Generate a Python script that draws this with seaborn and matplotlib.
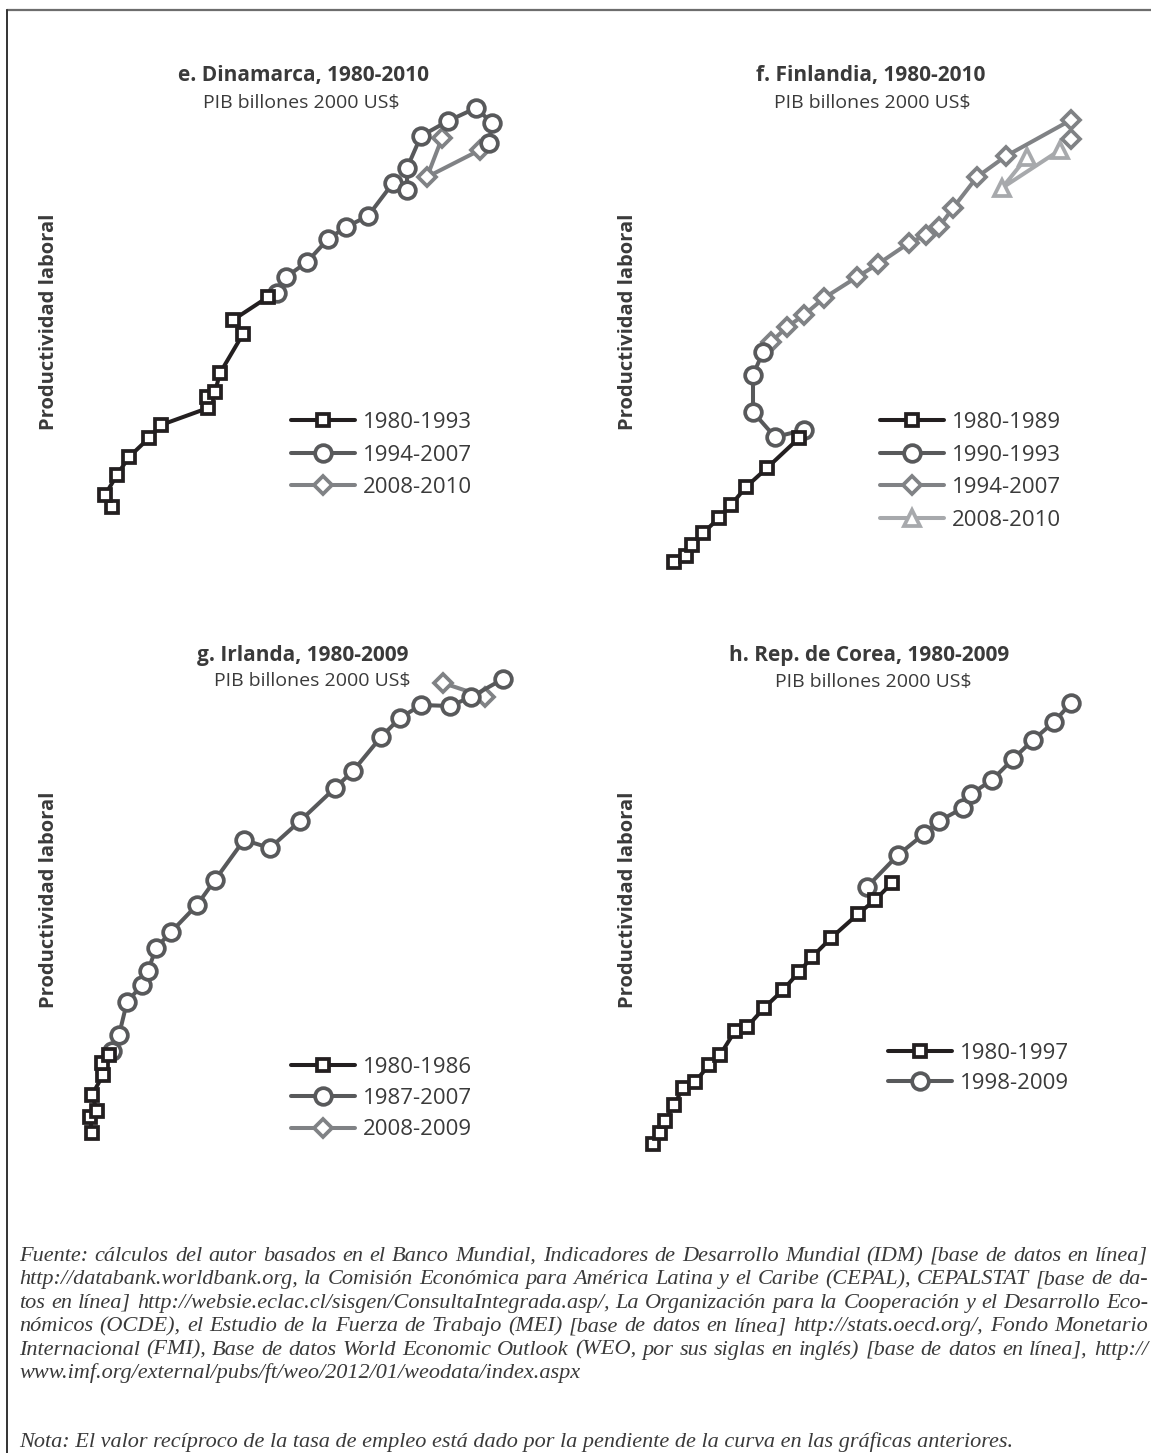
import matplotlib
matplotlib.use("Agg")
import matplotlib.pyplot as plt
import seaborn as sns
from matplotlib.lines import Line2D

W, H = 1151, 1453

# ---- data (index units; x = PIB, y = productividad) ----
# e. Dinamarca
dk_8093_x = [52, 45, 57, 69, 89, 101, 148, 147, 155, 160, 183, 173, 208]
dk_8093_y = [73, 85, 105, 123, 142, 155, 172, 183, 188, 207, 246, 260, 283]
dk_9407_x = [217, 226, 247, 268, 286, 308, 333, 347, 347, 361, 388, 416, 432, 429]
dk_9407_y = [287, 303, 318, 341, 353, 364, 397, 390, 412, 444, 459, 472, 457, 437]
dk_0810_x = [382, 367, 420]
dk_0810_y = [442, 403, 430]

# f. Finlandia
fi_8089_x = [44, 56, 62, 73, 89, 101, 116, 137, 169]
fi_8089_y = [18, 24, 35, 47, 62, 75, 93, 112, 142]
fi_9093_x = [174, 145, 123, 123, 133]
fi_9093_y = [150, 143, 168, 205, 228]
fi_9407_x = [141, 157, 174, 194, 227, 248, 279, 296, 309, 323, 347, 376, 441, 441]
fi_9407_y = [238, 253, 265, 282, 303, 316, 337, 345, 353, 372, 403, 424, 460, 441]
fi_0810_x = [397, 372, 430]
fi_0810_y = [423, 392, 430]

# g. Irlanda
ie_8086_x = [32, 30, 37, 32, 43, 42, 49]
ie_8086_y = [27, 43, 49, 65, 85, 97, 105]
ie_8707_x = [52, 59, 67, 82, 88, 96, 111, 137, 155, 184, 210, 240, 275, 293,
             321, 340, 361, 390, 411, 443]
ie_8707_y = [109, 125, 158, 175, 189, 212, 228, 255, 280, 320, 312, 339, 372, 389,
             423, 442, 455, 454, 463, 481]
ie_0809_x = [383, 425]
ie_0809_y = [477, 463]

# h. Rep. de Corea
kr_8097_x = [23, 30, 35, 44, 53, 65, 79, 90, 105, 117, 134, 153, 169, 182, 201,
             228, 245, 262]
kr_8097_y = [16, 27, 39, 55, 72, 78, 95, 105, 129, 133, 152, 170, 188, 203, 222,
             246, 260, 277]
kr_9809_x = [237, 268, 294, 309, 333, 341, 362, 383, 403, 424, 441]
kr_9809_y = [273, 305, 326, 339, 352, 366, 380, 401, 420, 438, 457]

TITLES = ["e. Dinamarca, 1980-2010", "f. Finlandia, 1980-2010",
          "g. Irlanda, 1980-2009", "h. Rep. de Corea, 1980-2009"]
SUBTITLE = "PIB billones 2000 US$"
YLABEL = "Productividad laboral"

SOURCE_LINES = [
    "Fuente: cálculos del autor basados en el Banco Mundial, Indicadores de Desarrollo Mundial (IDM) [base de datos en línea]",
    "http://databank.worldbank.org, la Comisión Económica para América Latina y el Caribe (CEPAL), CEPALSTAT [base de da-",
    "tos en línea] http://websie.eclac.cl/sisgen/ConsultaIntegrada.asp/, La Organización para la Cooperación y el Desarrollo Eco-",
    "nómicos (OCDE), el Estudio de la Fuerza de Trabajo (MEI) [base de datos en línea] http://stats.oecd.org/, Fondo Monetario",
    "Internacional (FMI), Base de datos World Economic Outlook (WEO, por sus siglas en inglés) [base de datos en línea], http://",
    "www.imf.org/external/pubs/ft/weo/2012/01/weodata/index.aspx",
]
NOTE = "Nota: El valor recíproco de la tasa de empleo está dado por la pendiente de la curva en las gráficas anteriores."

# ---- styles ----
C_BLACK = "#231f20"
C_DARK = "#58595b"
C_MID = "#808285"
C_LIGHT = "#a7a9ac"
TXT = "#3a3a3a"

SQ = ("s", 9.0)
CI = ("o", 12.0)
DI = ("D", 9.0)
TR = ("^", 11.5)

panels = [
    dict(box=(60, 580), title_xy=(303, 75), sub_xy=(301, 103), ylab_xy=(49, 322),
         leg_xy=(291, 412), spacing=0.52,
         series=[("1980-1993", dk_8093_x, dk_8093_y, SQ, C_BLACK),
                 ("1994-2007", dk_9407_x, dk_9407_y, CI, C_DARK),
                 ("2008-2010", dk_0810_x, dk_0810_y, DI, C_MID)]),
    dict(box=(630, 580), title_xy=(871, 75), sub_xy=(872, 103), ylab_xy=(628, 322),
         leg_xy=(880, 412), spacing=0.52,
         series=[("1980-1989", fi_8089_x, fi_8089_y, SQ, C_BLACK),
                 ("1990-1993", fi_9093_x, fi_9093_y, CI, C_DARK),
                 ("1994-2007", fi_9407_x, fi_9407_y, DI, C_MID),
                 ("2008-2010", fi_0810_x, fi_0810_y, TR, C_LIGHT)]),
    dict(box=(60, 1160), title_xy=(303, 655), sub_xy=(312, 681), ylab_xy=(49, 900),
         leg_xy=(291, 1057), spacing=0.46,
         series=[("1980-1986", ie_8086_x, ie_8086_y, SQ, C_BLACK),
                 ("1987-2007", ie_8707_x, ie_8707_y, CI, C_DARK),
                 ("2008-2009", ie_0809_x, ie_0809_y, DI, C_MID)]),
    dict(box=(630, 1160), title_xy=(869, 656), sub_xy=(873, 682), ylab_xy=(628, 900),
         leg_xy=(888, 1043), spacing=0.4,
         series=[("1980-1997", kr_8097_x, kr_8097_y, SQ, C_BLACK),
                 ("1998-2009", kr_9809_x, kr_9809_y, CI, C_DARK)]),
]


def fx(px):
    return px / W


def fy(py):
    return 1 - py / H


sns.set_theme(style="white")
plt.rcParams["font.family"] = ["Open Sans", "DejaVu Sans"]

fig = plt.figure(figsize=(W / 100, H / 100), dpi=100)

BOX_W, BOX_H = 480, 500
for i, p in enumerate(panels):
    x0, y0 = p["box"]
    ax = fig.add_axes([fx(x0), fy(y0), BOX_W / W, BOX_H / H])
    ax.set_xlim(0, BOX_W)
    ax.set_ylim(0, BOX_H)
    ax.axis("off")

    # later periods underneath, earlier ones on top
    for label, xs, ys, (mk, ms), col in reversed(p["series"]):
        sns.lineplot(x=xs, y=ys, ax=ax, color=col, linewidth=2.9,
                     marker=mk, markersize=ms, markeredgewidth=2.7,
                     markeredgecolor=col, markerfacecolor="white",
                     estimator=None, sort=False, label=label, clip_on=False)

    handles, labels = ax.get_legend_handles_labels()
    order = [s[0] for s in p["series"]]
    hmap = dict(zip(labels, handles))
    ax.legend([hmap[l] for l in order], order, loc="upper left",
              bbox_to_anchor=(fx(p["leg_xy"][0]), fy(p["leg_xy"][1])),
              bbox_transform=fig.transFigure, frameon=False, fontsize=16,
              handlelength=2.9, handletextpad=0.35, labelspacing=p["spacing"],
              borderpad=0, borderaxespad=0, labelcolor=TXT)

    fig.text(fx(p["title_xy"][0]), fy(p["title_xy"][1]), TITLES[i], ha="center",
             va="center", fontsize=15, fontweight="bold", color=TXT)
    fig.text(fx(p["sub_xy"][0]), fy(p["sub_xy"][1]), SUBTITLE, ha="center",
             va="center", fontsize=14, color=TXT)
    fig.text(fx(p["ylab_xy"][0]), fy(p["ylab_xy"][1]), YLABEL, ha="center",
             va="center", rotation=90, fontsize=14.5, fontweight="bold", color=TXT)

# frame
fig.add_artist(Line2D([fx(7), 1], [fy(10), fy(10)], color="#6d6d6d", lw=1.6))
fig.add_artist(Line2D([fx(7), fx(7)], [fy(10), 0], color="#333333", lw=1.4))

# source text, justified word by word
foot_kw = dict(family=["Liberation Serif", "DejaVu Serif"], style="italic",
               fontsize=16, color=TXT, va="center_baseline", ha="left")
fig.canvas.draw()
rend = fig.canvas.get_renderer()
left, right = 19, 1148
for i, line in enumerate(SOURCE_LINES):
    y = fy(1254 + i * 23.4)
    words = line.split(" ")
    arts = [fig.text(0, y, w, **foot_kw) for w in words]
    widths = [a.get_window_extent(rend).width for a in arts]
    if i < len(SOURCE_LINES) - 1:
        gap = (right - left - sum(widths)) / (len(words) - 1)
    else:
        gap = 5
    x = left
    for a, w in zip(arts, widths):
        a.set_x(fx(x))
        x += w + gap

fig.text(fx(left), fy(1440), NOTE, **foot_kw)

fig.savefig("out.png", dpi=100)
